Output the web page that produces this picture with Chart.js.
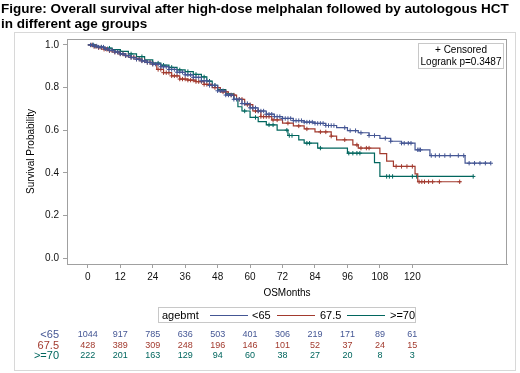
<!DOCTYPE html>
<html lang="en">
<head>
<meta charset="UTF-8">
<title>Overall survival by age group</title>
<style>
    body { margin: 0; padding: 0; background: #fff; }
    #km { display: block; }
</style>
</head>
<body>
<canvas id="km" width="520" height="373"></canvas>
<script src="https://cdn.jsdelivr.net/npm/chart.js"></script>
<script>
// Kaplan-Meier step curves (months, survival after the step)
const blueT = [0, 2, 4, 6, 8, 10, 12, 14, 16, 18, 20, 22, 24, 27, 30, 33, 36, 39, 42, 45, 48, 51, 54, 57, 60, 63, 66, 69, 72, 76, 80, 84, 88, 92, 96, 100, 104, 108, 112, 116, 121, 126.5, 139.5, 149];
const blueS = [1.0, 0.995, 0.99, 0.982, 0.975, 0.967, 0.958, 0.95, 0.941, 0.933, 0.925, 0.918, 0.91, 0.898, 0.885, 0.872, 0.86, 0.848, 0.832, 0.81, 0.785, 0.765, 0.745, 0.725, 0.705, 0.69, 0.675, 0.664, 0.655, 0.645, 0.638, 0.632, 0.622, 0.612, 0.598, 0.588, 0.575, 0.562, 0.548, 0.539, 0.508, 0.481, 0.445, 0.445];
const redT = [0, 2, 4, 6, 8, 10, 12, 14, 16, 18, 20, 22, 24, 25.5, 28, 31, 34, 37, 40, 43, 46, 49, 52, 55, 58, 61, 64, 68, 72, 76, 80, 84, 90, 92, 98, 100, 108, 110.5, 113, 121, 122, 138];
const redS = [1.0, 0.993, 0.987, 0.98, 0.973, 0.966, 0.958, 0.95, 0.942, 0.934, 0.926, 0.918, 0.91, 0.885, 0.87, 0.855, 0.84, 0.835, 0.828, 0.815, 0.8, 0.78, 0.765, 0.745, 0.72, 0.69, 0.664, 0.648, 0.633, 0.62, 0.606, 0.592, 0.572, 0.555, 0.531, 0.516, 0.49, 0.455, 0.43, 0.395, 0.358, 0.358];
const greenT = [0, 3, 6, 9, 12, 15, 18, 21, 24, 27, 30, 33, 36, 39, 42, 44, 46, 48, 51, 54, 55.5, 57, 60, 63, 66, 70, 74, 78, 80, 85, 96, 106, 108, 142.5];
const greenS = [1.0, 0.99, 0.985, 0.978, 0.97, 0.958, 0.945, 0.93, 0.915, 0.905, 0.895, 0.883, 0.875, 0.862, 0.85, 0.83, 0.81, 0.79, 0.77, 0.745, 0.71, 0.69, 0.66, 0.64, 0.625, 0.6, 0.575, 0.555, 0.539, 0.516, 0.492, 0.448, 0.383, 0.383];

// censoring times (months)
const blueCens = [1, 1.8, 2.5, 3.3, 4, 5, 5.8, 6.5, 7.3, 8, 9, 10, 11, 12, 13, 14, 15, 16, 17, 18, 19, 20, 21, 22, 23, 24, 25, 26, 27, 28, 29, 30, 31, 32, 33, 34, 35, 36, 37, 38, 39, 40, 41, 42, 43, 44, 45, 46, 47, 48, 49, 50, 51, 52, 53, 54, 55, 56, 57, 58, 59, 60, 61, 62, 63, 64, 65, 66, 67, 68, 69, 70, 71, 72, 73, 74, 75, 76, 77, 78, 79, 80, 81, 82, 83, 84, 85, 86, 87, 88, 89, 90, 91, 95, 97, 99, 101, 104, 106, 110, 112, 116, 117, 118.5, 119.5, 122, 122.5, 123, 127, 128.5, 130, 132, 134, 137, 139, 141, 143, 145, 147, 149];
const redCens = [1.5, 2.3, 3, 4, 5, 6, 7, 8, 9, 10, 11, 12, 13, 14, 15, 16, 17, 18, 19, 20, 21, 22, 23, 24, 26, 27, 28, 29, 30, 31, 32, 33, 34, 35, 36, 37, 38, 39, 40, 41, 42, 43, 44, 45, 47, 48, 50, 51, 53, 54, 56, 57, 59, 60, 62, 63, 64, 65, 66, 67, 68.5, 70, 74, 78, 81, 86, 88, 90, 95, 99.5, 101, 103, 104, 114, 116, 118, 120, 122.5, 123.5, 124.5, 126, 127.5, 130, 137.5];
const greenCens = [2, 5, 8, 12, 16, 20, 24, 26, 28, 31, 34, 37, 40, 43, 45, 47, 52, 58, 62, 67, 68.5, 73.6, 74.5, 75.5, 81, 82, 86, 96.5, 98, 99.5, 100.6, 110.5, 111.5, 112.7, 120, 121.6, 142.5];

const groups = ['<65', '67.5', '>=70'];
const colors = ['#445694', '#A23A2E', '#01665E'];
const tickMonths = [0, 12, 24, 36, 48, 60, 72, 84, 96, 108, 120];
const yTicks = [0, 0.2, 0.4, 0.6, 0.8, 1.0];

// numbers at risk
const riskBlue = [1044, 917, 785, 636, 503, 401, 306, 219, 171, 89, 61];
const riskRed = [428, 389, 309, 248, 196, 146, 101, 52, 37, 24, 15];
const riskGreen = [222, 201, 163, 129, 94, 60, 38, 27, 20, 8, 3];

const FONT = '"Liberation Sans", Arial, sans-serif';

function steps(T, S) {
    return T.map((t, i) => ({ x: t, y: S[i] }));
}
function survAt(T, S, t) {
    let v = S[0];
    for (let i = 0; i < T.length; i++) { if (T[i] <= t) v = S[i]; }
    return v;
}
function censPoints(T, S, C) {
    return C.map(t => ({ x: t, y: survAt(T, S, t) }));
}

const curves = [[blueT, blueS, blueCens], [redT, redS, redCens], [greenT, greenS, greenCens]];
const datasets = [];
curves.forEach((c, i) => {
    datasets.push({
        label: groups[i], data: steps(c[0], c[1]), showLine: true, stepped: true,
        borderColor: colors[i], borderWidth: 1.2, pointRadius: 0, fill: false
    });
    datasets.push({
        label: groups[i] + ' censored', data: censPoints(c[0], c[1], c[2]), showLine: false,
        pointStyle: 'cross', pointRadius: 2.2, borderColor: colors[i], borderWidth: 1
    });
});

const decorations = {
    id: 'decorations',
    afterDraw(chart) {
        const ctx = chart.ctx;
        const a = chart.chartArea;
        const xs = chart.scales.x;
        ctx.save();

        // title
        ctx.fillStyle = '#000';
        ctx.font = 'bold 13.5px ' + FONT;
        ctx.textBaseline = 'middle';
        ctx.textAlign = 'left';
        ctx.fillText('Figure: Overall survival after high-dose melphalan followed by autologous HCT', 1, 9);
        ctx.fillText('in different age groups', 1, 24);

        // outer frame
        ctx.strokeStyle = '#d8d8d8';
        ctx.lineWidth = 1;
        ctx.strokeRect(14.5, 32.5, 501, 338);

        // plot frame
        ctx.strokeStyle = '#a0a0a0';
        ctx.strokeRect(a.left + 0.5, a.top + 0.5, a.right - a.left - 1, a.bottom - a.top);

        // axis titles
        ctx.fillStyle = '#000';
        ctx.font = '10px ' + FONT;
        ctx.textAlign = 'center';
        ctx.fillText('OSMonths', (a.left + a.right) / 2, 293);
        ctx.save();
        ctx.translate(31, (a.top + a.bottom) / 2);
        ctx.rotate(-Math.PI / 2);
        ctx.fillText('Survival Probability', 0, 0);
        ctx.restore();

        // inset box
        ctx.fillStyle = '#fff';
        ctx.fillRect(418, 43, 85, 25);
        ctx.strokeStyle = '#c8c8c8';
        ctx.strokeRect(418.5, 43.5, 85, 25);
        ctx.fillStyle = '#000';
        ctx.font = '10px ' + FONT;
        ctx.fillText('+ Censored', 461, 50);
        ctx.fillText('Logrank p=0.3487', 461, 62);

        // bottom legend
        ctx.strokeStyle = '#c8c8c8';
        ctx.strokeRect(158.5, 307.5, 257, 15);
        ctx.font = '11px ' + FONT;
        ctx.textAlign = 'left';
        ctx.fillText('agebmt', 162, 315.5);
        const segs = [[210, 248, 252], [277, 315, 320], [347, 385, 390]];
        segs.forEach((s, i) => {
            ctx.strokeStyle = colors[i];
            ctx.beginPath();
            ctx.moveTo(s[0], 315.5);
            ctx.lineTo(s[1], 315.5);
            ctx.stroke();
            ctx.fillStyle = '#000';
            ctx.fillText(groups[i], s[2], 315.5);
        });

        // at-risk table
        const rows = [riskBlue, riskRed, riskGreen];
        const rowY = [335, 345.5, 356];
        rows.forEach((r, i) => {
            ctx.fillStyle = colors[i];
            ctx.font = '11px ' + FONT;
            ctx.textAlign = 'right';
            ctx.fillText(groups[i], 59, rowY[i]);
            ctx.font = '9px ' + FONT;
            ctx.textAlign = 'center';
            r.forEach((n, j) => {
                ctx.fillText(String(n), xs.getPixelForValue(tickMonths[j]), rowY[i]);
            });
        });
        ctx.restore();
    }
};

new Chart(document.getElementById('km'), {
    type: 'scatter',
    data: { datasets: datasets },
    options: {
        responsive: false,
        animation: false,
        layout: { padding: { left: 0, top: 39, right: 13, bottom: 0 } },
        plugins: { legend: { display: false }, tooltip: { enabled: false } },
        scales: {
            x: {
                type: 'linear', min: -7.7, max: 155,
                afterFit: s => { s.height = 109; },
                afterBuildTicks: s => { s.ticks = tickMonths.map(v => ({ value: v })); },
                grid: { drawOnChartArea: false, drawTicks: true, tickLength: 4, color: '#a0a0a0' },
                border: { display: true, color: '#a0a0a0' },
                ticks: { color: '#111', padding: 3, maxRotation: 0, font: { family: FONT, size: 10 } }
            },
            y: {
                type: 'linear', min: -0.028, max: 1.028,
                afterFit: s => { s.width = 67; },
                afterBuildTicks: s => { s.ticks = yTicks.map(v => ({ value: v })); },
                grid: { drawOnChartArea: false, drawTicks: true, tickLength: 4, color: '#a0a0a0' },
                border: { display: true, color: '#a0a0a0' },
                ticks: { color: '#111', padding: 4, font: { family: FONT, size: 10 }, callback: v => v.toFixed(1) }
            }
        }
    },
    plugins: [decorations]
});
</script>
</body>
</html>
